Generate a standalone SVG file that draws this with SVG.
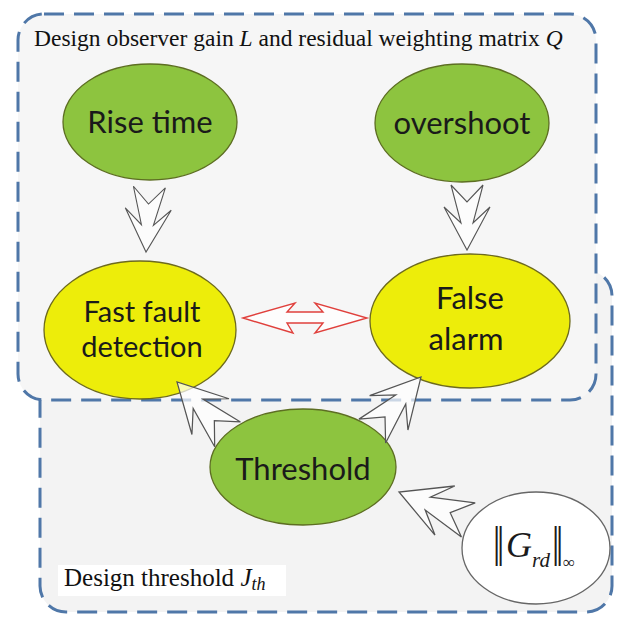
<svg xmlns="http://www.w3.org/2000/svg" width="620" height="619" viewBox="0 0 620 619">
  <style>
    .frame { stroke: #4f77a8; stroke-width: 3; stroke-dasharray: 20 10; }
    .cap { font-family: "Liberation Serif", "Times New Roman", serif; font-size: 23.5px; fill: #111; }
    .it { font-style: italic; }
    .lbl { font-family: Lato, "Open Sans", "Liberation Sans", sans-serif; font-size: 31px; fill: #1a1a1a; text-anchor: middle; }
    .lbl2 { font-size: 29px; }
    .math { font-family: "Liberation Serif", "Times New Roman", serif; fill: #1a1a1a; }
    .green { fill: #8dc43f; stroke: #5d6e22; stroke-width: 1.3; }
    .yellow { fill: #eded0a; stroke: #6d6a1e; stroke-width: 1.3; }
    .white { fill: #ffffff; stroke: #666; stroke-width: 1.3; }
    .flow { fill: #ffffff; fill-opacity: 0.7; stroke: #555; stroke-width: 1.1; stroke-linejoin: miter; }
    .both { fill: #ffffff; fill-opacity: 0.8; stroke: #e0403c; stroke-width: 1.4; }
  </style>
  <defs>
    <!-- notched block arrow, tip at the origin, pointing along +y -->
    <path id="notch" d="M -16,-65 L 0,-48 L 16,-65 L 6,-27 L 23,-43 L 0,0 L -23,-43 L -6,-27 Z"/>
  </defs>

  <rect width="620" height="619" fill="#ffffff"/>

  <!-- frames -->
  <g id="threshold-frame">
    <rect class="frame" x="40" y="270" width="572" height="342" rx="26" fill="#f3f3f3"/>
    <rect x="58" y="565" width="228" height="31" fill="#ffffff"/>
    <text class="cap" x="64" y="586" style="font-size:25px">Design threshold <tspan class="it">J</tspan><tspan class="it" style="font-size:18px" dy="4">th</tspan></text>
  </g>
  <g id="observer-frame">
    <rect class="frame" x="18" y="14" width="578" height="386" rx="26" fill="#f6f6f6"/>
    <text class="cap" x="34" y="46">Design observer gain <tspan class="it">L</tspan> and residual weighting matrix <tspan class="it">Q</tspan></text>
  </g>

  <!-- nodes -->
  <g id="rise-time">
    <ellipse class="green" cx="150" cy="122" rx="87" ry="58"/>
    <text class="lbl" x="150" y="133">Rise time</text>
  </g>
  <g id="overshoot">
    <ellipse class="green" cx="462" cy="123" rx="87" ry="59"/>
    <text class="lbl" x="462" y="134">overshoot</text>
  </g>
  <g id="fast-fault-detection">
    <ellipse class="yellow" cx="140" cy="330" rx="96" ry="69"/>
    <text class="lbl lbl2" x="142" y="322">Fast fault</text>
    <text class="lbl lbl2" x="142" y="357">detection</text>
  </g>
  <g id="false-alarm">
    <ellipse class="yellow" cx="470" cy="321" rx="100" ry="67"/>
    <text class="lbl" x="470" y="309">False</text>
    <text class="lbl" x="466" y="350">alarm</text>
  </g>
  <g id="threshold">
    <ellipse class="green" cx="303" cy="467" rx="93" ry="58"/>
    <text class="lbl" x="303" y="480">Threshold</text>
  </g>
  <g id="hinf-norm">
    <ellipse class="white" cx="536" cy="548" rx="74" ry="56"/>
    <text class="math" font-size="40" transform="translate(493,566) scale(1,1.4)">‖</text>
    <text class="math" font-size="36" font-style="italic" x="506" y="557">G</text>
    <text class="math" font-size="21" font-style="italic" x="532" y="567">rd</text>
    <text class="math" font-size="40" transform="translate(552,566) scale(1,1.4)">‖</text>
    <text class="math" font-size="17" x="563" y="568">∞</text>
  </g>

  <!-- connectors -->
  <g id="connectors">
    <use href="#notch" class="flow" transform="translate(146,252) rotate(3)"/>
    <use href="#notch" class="flow" transform="translate(467,250)"/>
    <use href="#notch" class="flow" transform="translate(177,382) rotate(136) scale(1.12)"/>
    <use href="#notch" class="flow" transform="translate(421,377) rotate(-138) scale(1.12)"/>
    <use href="#notch" class="flow" transform="translate(399,492) rotate(112) scale(1.15)"/>
    <path class="both" d="M 243,318 L 295,303 L 287,312 L 323,312 L 315,303 L 367,318 L 315,333 L 323,323 L 287,323 L 293,333 Z"/>
  </g>
</svg>
